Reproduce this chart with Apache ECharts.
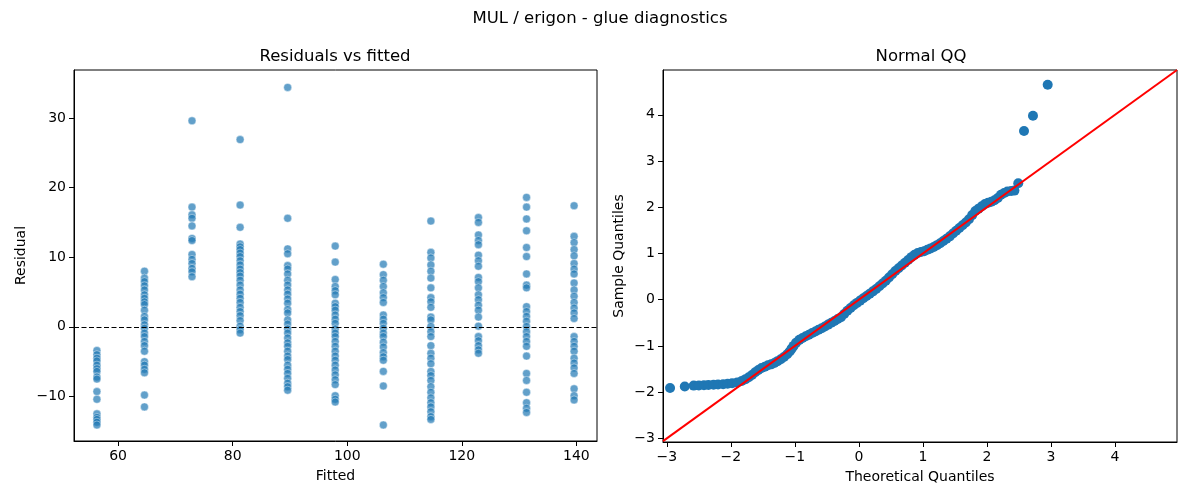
<!DOCTYPE html>
<html>
<head>
<meta charset="utf-8">
<script src="https://cdn.jsdelivr.net/npm/echarts@6/dist/echarts.min.js"></script>
<style>
html,body{margin:0;padding:0;background:#fff;}
#chart{width:1200px;height:500px;}
</style>
</head>
<body>
<div id="chart"></div>
<script>
// ---- Data ----
const fittedLevels = [56.3, 64.6, 72.9, 81.3, 89.6, 97.9, 106.3, 114.6, 122.9, 131.3, 139.6];
const resid1 = [-3.4, -4.0, -4.5, -4.9, -5.5, -6.0, -6.4, -7.2, -7.5, -9.3, -10.4, -12.5, -13.0, -13.3, -13.7, -14.1];
const resid2 = [8.0, 7.0, 6.5, 5.9, 5.3, 4.6, 4.1, 3.6, 3.2, 2.4, 1.5, 1.0, 0.3, -0.2, -0.9, -1.4, -2.1, -2.7, -3.5, -5.0, -5.5, -6.1, -6.6, -9.8, -11.5];
const resid3 = [29.6, 17.2, 16.1, 15.6, 14.5, 12.7, 12.4, 10.4, 9.7, 9.1, 8.4, 7.9, 7.2];
const resid4 = [26.9, 17.5, 14.3, 11.9, 11.5, 11.1, 10.6, 10.1, 9.5, 8.9, 8.3, 7.8, 7.3, 6.7, 6.0, 5.3, 4.7, 4.1, 3.5, 2.8, 2.2, 1.6, 0.9, 0.1, -0.4, -0.9];
const resid5 = [34.4, 15.6, 11.2, 10.5, 8.8, 8.3, 7.6, 6.7, 6.0, 5.3, 4.7, 4.0, 3.4, 2.5, 2.0, 1.0, 0.4, -0.3, -0.9, -1.6, -2.3, -2.8, -3.5, -4.2, -4.7, -5.5, -6.1, -6.7, -7.4, -8.1, -8.6, -9.1];
const resid6 = [11.6, 9.3, 6.8, 5.8, 5.2, 4.6, 3.4, 2.9, 2.4, 1.7, 1.1, 0.5, -0.3, -0.9, -1.4, -2.1, -2.8, -3.5, -4.2, -4.8, -5.5, -6.2, -6.9, -7.6, -8.3, -9.9, -10.4, -10.8];
const resid7 = [9.0, 7.5, 6.7, 5.8, 4.9, 4.2, 3.5, 1.7, 1.1, 0.5, -0.2, -0.9, -1.4, -2.2, -2.9, -3.7, -4.3, -4.8, -6.4, -8.5, -14.1];
const resid8 = [15.2, 10.7, 9.9, 8.9, 8.0, 7.0, 5.6, 4.2, 3.6, 2.8, 1.4, 1.0, 0.05, -0.7, -1.4, -2.7, -3.8, -4.5, -5.3, -6.4, -7.0, -7.7, -8.6, -9.4, -10.2, -10.9, -11.5, -12.2, -12.9, -13.3];
const resid9 = [15.7, 15.0, 13.2, 12.4, 11.8, 10.3, 9.5, 8.7, 7.1, 6.5, 5.6, 4.6, 3.9, 3.1, 2.4, 1.4, 0.1, -1.4, -2.0, -2.7, -3.3, -3.8];
const resid10 = [18.6, 17.2, 15.5, 13.8, 11.4, 10.1, 7.6, 6.0, 5.6, 2.9, 2.2, 1.5, 0.8, 0.05, -0.7, -1.4, -2.1, -2.8, -4.2, -6.7, -7.7, -9.4, -10.9, -11.7, -12.3];
const resid11 = [17.4, 13.0, 12.1, 11.1, 10.2, 9.1, 8.3, 7.6, 6.3, 5.3, 4.4, 3.5, 2.7, 2.0, 1.2, -1.4, -2.1, -2.8, -3.5, -4.5, -5.2, -5.9, -6.7, -8.9, -9.9, -10.5];
const residualGroups = [resid1, resid2, resid3, resid4, resid5, resid6, resid7, resid8, resid9, resid10, resid11];

const qqTheoretical = [-2.95, -2.72, -2.58, -2.50, -2.42, -2.35, -2.27, -2.20, -2.12, -2.05, -1.98, -1.90, -1.83, -1.77, -1.72, -1.67, -1.62, -1.57, -1.52, -1.47, -1.42, -1.37, -1.32, -1.27, -1.22, -1.17, -1.12, -1.08, -1.05, -1.02, -0.98, -0.93, -0.88, -0.83, -0.78, -0.73, -0.68, -0.63, -0.58, -0.53, -0.48, -0.43, -0.38, -0.33, -0.28, -0.23, -0.18, -0.13, -0.08, -0.03, 0.02, 0.07, 0.12, 0.17, 0.22, 0.27, 0.32, 0.37, 0.42, 0.47, 0.52, 0.57, 0.62, 0.67, 0.72, 0.77, 0.82, 0.87, 0.92, 0.97, 1.02, 1.07, 1.12, 1.17, 1.22, 1.27, 1.32, 1.37, 1.42, 1.47, 1.52, 1.57, 1.62, 1.67, 1.72, 1.77, 1.82, 1.87, 1.92, 1.97, 2.02, 2.07, 2.12, 2.17, 2.22, 2.27, 2.32, 2.38, 2.43, 2.49, 2.58, 2.72, 2.95];
const qqSample = [-1.91, -1.88, -1.86, -1.855, -1.85, -1.845, -1.84, -1.835, -1.83, -1.82, -1.81, -1.79, -1.76, -1.72, -1.68, -1.63, -1.57, -1.52, -1.48, -1.45, -1.42, -1.40, -1.37, -1.33, -1.29, -1.24, -1.18, -1.12, -1.06, -1.00, -0.93, -0.87, -0.83, -0.79, -0.76, -0.72, -0.69, -0.65, -0.62, -0.58, -0.54, -0.50, -0.46, -0.42, -0.38, -0.31, -0.24, -0.18, -0.12, -0.07, -0.02, 0.03, 0.08, 0.13, 0.18, 0.23, 0.29, 0.35, 0.41, 0.48, 0.55, 0.62, 0.68, 0.74, 0.80, 0.86, 0.92, 0.97, 1.01, 1.03, 1.05, 1.08, 1.11, 1.14, 1.18, 1.22, 1.27, 1.32, 1.37, 1.43, 1.49, 1.55, 1.61, 1.67, 1.74, 1.83, 1.92, 1.97, 2.02, 2.07, 2.10, 2.12, 2.15, 2.20, 2.27, 2.31, 2.34, 2.35, 2.36, 2.52, 3.65, 3.98, 4.65];

const leftXTicks = [60, 80, 100, 120, 140];
const leftYTicks = [-10, 0, 10, 20, 30];
const qqTicks = [-3, -2, -1, 0, 1, 2, 3, 4];

// ---- Build ----
const residPoints = [];
residualGroups.forEach((g, i) => g.forEach(r => residPoints.push([fittedLevels[i], r])));
const qqPoints = qqTheoretical.map((t, i) => [t, qqSample[i]]);

const LX = [52.3, 143.6], LY = [-16.4, 36.9], QX = [-3.06, 4.97], QY = [-3.08, 4.97];
const qqLine = [[QX[0], QX[0]], [QX[1], QX[1]]];

const FONT = 'DejaVu Sans';
const minus = v => String(v).replace('-', '\u2212');

function axisCommon(ticks, extent) {
  return {
    type: 'value', min: extent[0], max: extent[1],
    axisLine: { show: true, onZero: false, lineStyle: { color: '#000', width: 1 } },
    axisTick: { show: true, inside: false, length: 5, lineStyle: { color: '#000', width: 1 }, customValues: ticks },
    axisLabel: { show: true, color: '#000', fontFamily: FONT, fontSize: 14, margin: 8, customValues: ticks, formatter: minus },
    splitLine: { show: false },
    nameLocation: 'middle',
    nameTextStyle: { color: '#000', fontFamily: FONT, fontSize: 14 }
  };
}

const titleStyle = { fontFamily: FONT, fontSize: 16.5, fontWeight: 'normal', color: '#000' };
const chart = echarts.init(document.getElementById('chart'), null, { renderer: 'canvas' });
chart.setOption({
  animation: false,
  backgroundColor: '#fff',
  title: [
    { text: 'MUL / erigon - glue diagnostics', left: 600, top: 10, padding: 0, textAlign: 'center', textStyle: titleStyle },
    { text: 'Residuals vs fitted', left: 335, top: 48, padding: 0, textAlign: 'center', textStyle: titleStyle },
    { text: 'Normal QQ', left: 921, top: 48, padding: 0, textAlign: 'center', textStyle: titleStyle }
  ],
  grid: [
    { left: 74, right: 603, top: 70, bottom: 59, show: true, borderColor: '#000', borderWidth: 1, backgroundColor: 'transparent' },
    { left: 663, right: 23, top: 70, bottom: 58, show: true, borderColor: '#000', borderWidth: 1, backgroundColor: 'transparent' }
  ],
  xAxis: [
    Object.assign(axisCommon(leftXTicks, LX), { gridIndex: 0, name: 'Fitted', nameGap: 28 }),
    Object.assign(axisCommon(qqTicks, QX), { gridIndex: 1, name: 'Theoretical Quantiles', nameGap: 28 })
  ],
  yAxis: [
    Object.assign(axisCommon(leftYTicks, LY), { gridIndex: 0, name: 'Residual', nameGap: 46 }),
    Object.assign(axisCommon(qqTicks, QY), { gridIndex: 1, name: 'Sample Quantiles', nameGap: 37 })
  ],
  series: [
    {
      type: 'scatter', xAxisIndex: 0, yAxisIndex: 0, data: residPoints, symbolSize: 8,
      itemStyle: { color: '#1f77b4', opacity: 0.7, borderColor: '#fff', borderWidth: 0.6 },
      markLine: {
        silent: true, symbol: 'none', label: { show: false },
        lineStyle: { color: '#000', width: 1.2, type: [5, 2.5] },
        data: [{ yAxis: 0 }]
      },
      z: 3
    },
    {
      type: 'scatter', xAxisIndex: 1, yAxisIndex: 1, data: qqPoints, symbolSize: 10,
      itemStyle: { color: '#1f77b4', opacity: 1 }, z: 2
    },
    {
      type: 'line', xAxisIndex: 1, yAxisIndex: 1, data: qqLine, symbol: 'none',
      lineStyle: { color: '#ff0000', width: 2 }, z: 4
    }
  ]
});
</script>
</body>
</html>
